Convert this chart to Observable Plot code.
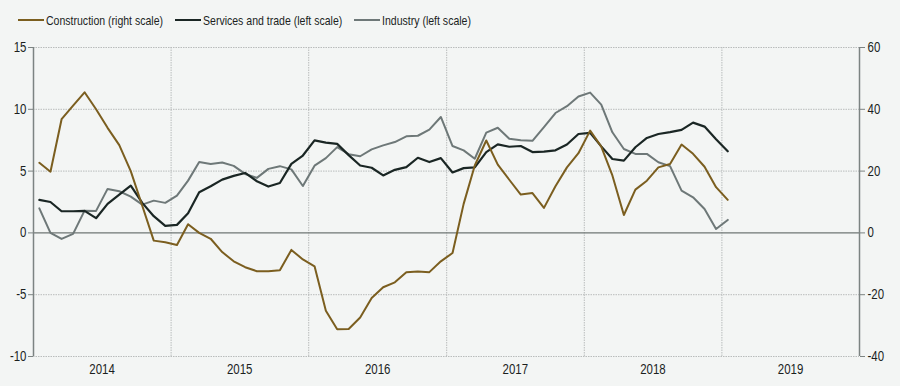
<!DOCTYPE html>
<html>
<head>
<meta charset="utf-8">
<script src="https://cdn.jsdelivr.net/npm/d3@7"></script>
<script src="https://cdn.jsdelivr.net/npm/@observablehq/plot@0.6"></script>
<style>
  html, body { margin: 0; padding: 0; background: #f3f5f4; }
  body { width: 900px; height: 386px; overflow: hidden; font-family: "Liberation Sans", Arial, sans-serif; }
  #legend { position: relative; height: 36px; font-size: 13.5px; color: #1b1f1e; }
  .item { position: absolute; top: 12px; height: 16px; display: flex; align-items: center; white-space: nowrap; }
  .sw { display: inline-block; width: 26px; height: 0; border-top: 2px solid; margin-right: 2px; }
  .tx { display: inline-block; transform: scaleX(0.78); transform-origin: left center; }
  svg { display: block; }
</style>
</head>
<body>
<div id="legend"></div>
<div id="chart"></div>
<script>
// Monthly observations, Jan 2014 – Jan 2019
const startYear = 2014;
const construction = [22.7, 19.8, 36.8, 41.2, 45.5, 40.0, 34.0, 28.4, 20.0, 8.8,
  -2.5, -3.0, -3.9, 2.8, 0.0, -1.9, -6.2, -9.2, -11.1, -12.4,
  -12.4, -12.1, -5.5, -8.6, -10.8, -25.2, -31.2, -31.1, -27.4, -21.1,
  -17.6, -16.0, -12.7, -12.5, -12.7, -9.2, -6.5, 9.4, 21.8, 29.9,
  22.1, 17.2, 12.4, 12.9, 8.1, 15.1, 21.2, 25.8, 33.1, 27.9,
  18.6, 5.8, 14.0, 16.9, 21.2, 22.3, 28.6, 25.6, 21.4, 14.8,
  10.7]; // right scale
const services = [2.67, 2.5, 1.75, 1.75, 1.78, 1.19, 2.35, 3.1, 3.83, 2.43,
  1.35, 0.57, 0.65, 1.59, 3.29, 3.77, 4.31, 4.61, 4.85, 4.18,
  3.75, 4.04, 5.58, 6.26, 7.48, 7.31, 7.2, 6.29, 5.45, 5.27,
  4.65, 5.1, 5.32, 6.08, 5.73, 6.05, 4.89, 5.24, 5.3, 6.54,
  7.16, 6.97, 7.03, 6.54, 6.57, 6.68, 7.15, 8.0, 8.1, 7.0,
  5.98, 5.85, 6.93, 7.68, 8.0, 8.15, 8.33, 8.92, 8.6, 7.57,
  6.6]; // left scale
const industry = [1.99, 0.0, -0.49, -0.08, 1.8, 1.78, 3.56, 3.37, 2.94, 2.29,
  2.61, 2.43, 3.02, 4.23, 5.74, 5.58, 5.69, 5.42, 4.77, 4.45,
  5.18, 5.4, 5.14, 3.79, 5.44, 6.05, 6.94, 6.37, 6.2, 6.76,
  7.08, 7.35, 7.81, 7.86, 8.35, 9.38, 7.03, 6.68, 6.0, 8.11,
  8.51, 7.62, 7.49, 7.45, 8.55, 9.7, 10.25, 11.04, 11.35, 10.38,
  8.14, 6.79, 6.39, 6.39, 5.72, 5.4, 3.42, 2.88, 1.94, 0.32,
  1.05]; // left scale

const seriesNames = ["Construction (right scale)", "Services and trade (left scale)", "Industry (left scale)"];
const colors = ["#7b5e1f", "#1a2624", "#6e7878"];
const leftTicks = [-10, -5, 0, 5, 10, 15];
const rightFactor = 4; // right scale = left scale × 4
const years = [2014, 2015, 2016, 2017, 2018, 2019];

const midMonth = i => new Date((Date.UTC(startYear, i, 1) + Date.UTC(startYear, i + 1, 1)) / 2);
const rows = [];
construction.forEach((v, i) => rows.push({series: seriesNames[0], date: midMonth(i), y: v / rightFactor}));
services.forEach((v, i) => rows.push({series: seriesNames[1], date: midMonth(i), y: v}));
industry.forEach((v, i) => rows.push({series: seriesNames[2], date: midMonth(i), y: v}));

// legend
const legend = document.getElementById("legend");
const legendLeft = [18, 175, 354];
seriesNames.forEach((name, k) => {
  const it = document.createElement("div");
  it.className = "item";
  it.style.left = legendLeft[k] + "px";
  const sw = document.createElement("span");
  sw.className = "sw";
  sw.style.borderTopColor = colors[k];
  const tx = document.createElement("span");
  tx.className = "tx";
  tx.textContent = name;
  it.appendChild(sw); it.appendChild(tx);
  legend.appendChild(it);
});

const x0 = new Date(Date.UTC(2014, 0, 1)), x1 = new Date(Date.UTC(2020, 0, 1));
const yearStarts = years.slice(1).map(y => new Date(Date.UTC(y, 0, 1)));
const yearMids = years.map(y => new Date(Date.UTC(y, 6, 2)));

const chart = Plot.plot({
  width: 900,
  height: 350,
  marginTop: 11,
  marginBottom: 30,
  marginLeft: 33,
  marginRight: 41,
  style: {background: "transparent", fontFamily: '"Liberation Sans", Arial, sans-serif', fontSize: "14px", color: "#1b1f1e"},
  x: {type: "utc", domain: [x0, x1]},
  y: {domain: [-10, 15]},
  marks: [
    Plot.ruleY(leftTicks.filter(d => d !== 0), {stroke: "#b9bcbc", strokeWidth: 1, strokeDasharray: "1.5,1"}),
    Plot.ruleX(yearStarts, {stroke: "#b9bcbc", strokeWidth: 1, strokeDasharray: "1.5,1"}),
    Plot.ruleY([0], {stroke: "#6f7675", strokeWidth: 1.4}),
    Plot.ruleX([x0, x1], {stroke: "#7c8382", strokeWidth: 1.5}),
    Plot.axisY({anchor: "left", ticks: leftTicks, tickSize: 5, tickPadding: 2, label: null, tickFormat: d => String(d), stroke: "#7c8382", fontSize: 14}),
    Plot.axisY({anchor: "right", ticks: leftTicks, tickSize: 5, tickPadding: 3, label: null, tickFormat: d => String(d * rightFactor), stroke: "#7c8382", fontSize: 14}),
    Plot.axisX({ticks: yearMids, tickSize: 0, tickPadding: 8, label: null, tickFormat: d => String(d.getUTCFullYear()), fontSize: 14}),
    Plot.line(rows.filter(d => d.series === seriesNames[2]), {x: "date", y: "y", stroke: colors[2], strokeWidth: 2}),
    Plot.line(rows.filter(d => d.series === seriesNames[1]), {x: "date", y: "y", stroke: colors[1], strokeWidth: 2.2}),
    Plot.line(rows.filter(d => d.series === seriesNames[0]), {x: "date", y: "y", stroke: colors[0], strokeWidth: 2})
  ]
});
// narrow the tick-label glyphs (reference uses a condensed face) around each label's anchor
d3.select(chart).selectAll("text").each(function() {
  const t = this.getAttribute("transform") || "";
  this.setAttribute("transform", (t + " scale(0.82,1)").trim());
});
document.getElementById("chart").appendChild(chart);
</script>
</body>
</html>
